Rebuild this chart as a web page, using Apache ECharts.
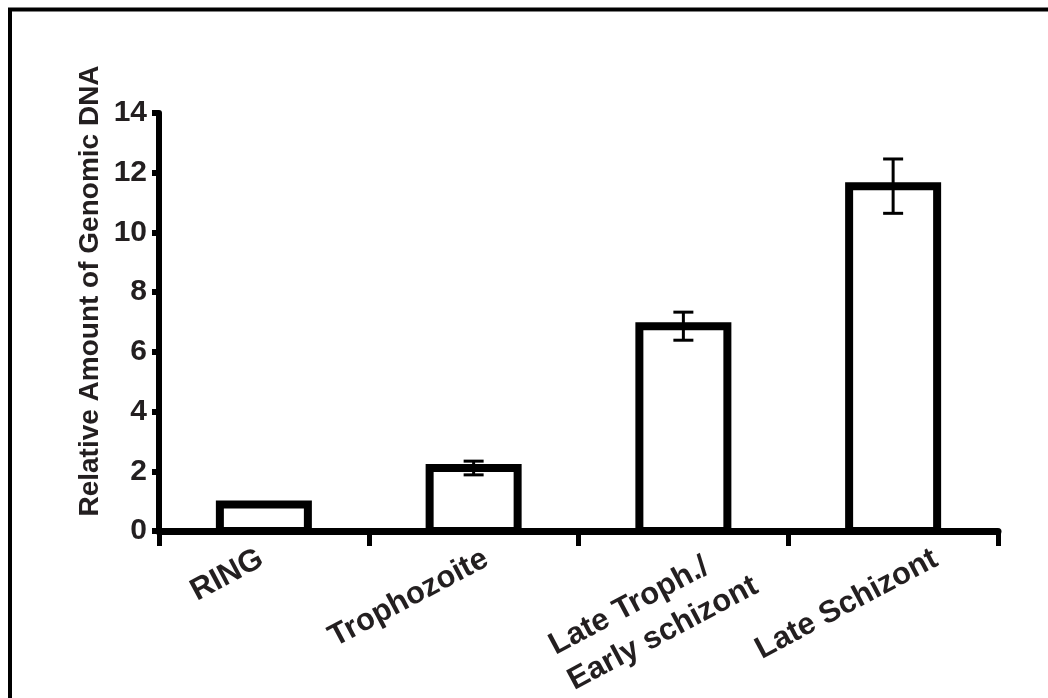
<!DOCTYPE html>
<html>
<head>
<meta charset="utf-8">
<title>Relative Amount of Genomic DNA</title>
<script src="https://cdn.jsdelivr.net/npm/echarts@6/dist/echarts.min.js"></script>
<style>
  html, body { margin: 0; padding: 0; background: #fff; }
  #chart { width: 1048px; height: 698px; }
</style>
</head>
<body>
<div id="chart"></div>
<script>
// stages and values
var stages = ['RING', 'Trophozoite', 'Late Troph./\nEarly schizont', 'Late Schizont']
var dnaAmount = [0.89, 2.11, 6.86, 11.55]
var dnaError = [0, 0.23, 0.47, 0.91]
var yTicks = { min: 0, max: 14, interval: 2 }

var font = "'Liberation Sans', Arial, Helvetica, sans-serif"
var textColor = '#231f20'

var chart = echarts.init(document.getElementById('chart'))

var barData = dnaAmount.map(function (v, i) { return [i, v] })
var errorData = dnaAmount.map(function (v, i) {
    return [i, v - dnaError[i], v + dnaError[i]]
})

// the two line name sits lower and more to the right
var stageLabels = stages.map(function (s) {
    if (s.indexOf('\n') < 0) return s
    return { value: s, textStyle: { padding: [50, -27, 0, 0] } }
})

var option = {
    animation: false,
    backgroundColor: '#fff',
    grid: [
        { left: 159, right: 50, top: 113, bottom: 167 },
        // labels only, the stage names sit a bit to the right in the picture
        { left: 149, width: 901, top: 113, bottom: 167 }
    ],
    graphic: [
        {
            type: 'rect',
            shape: { x: 10, y: 9.5, width: 1100, height: 800 },
            style: { fill: 'none', stroke: '#000', lineWidth: 4 },
            silent: true
        },
        {
            type: 'text',
            x: 90,
            y: 291,
            rotation: Math.PI / 2,
            style: {
                text: 'Relative Amount of Genomic DNA',
                font: 'bold 28px ' + font,
                fill: textColor,
                textAlign: 'center',
                textVerticalAlign: 'middle'
            }
        }
    ],
    xAxis: [
        {
            type: 'category',
            gridIndex: 0,
            data: stages,
            axisLine: { lineStyle: { color: '#000', width: 7 } },
            axisTick: { show: true, length: 15, lineStyle: { color: '#000', width: 5 } },
            axisLabel: { show: false },
            splitLine: { show: false }
        },
        {
            type: 'category',
            gridIndex: 1,
            data: stageLabels,
            axisLine: { show: false },
            axisTick: { show: false },
            axisLabel: {
                rotate: 28,
                margin: 26,
                interval: 0,
                formatter: function (v) {
                    return v.split('\n').map(function (s) { return '{a|' + s + '}' }).join('\n')
                },
                rich: {
                    a: {
                        fontFamily: font,
                        fontWeight: 'bold',
                        fontSize: 31,
                        lineHeight: 40,
                        color: textColor,
                        align: 'left'
                    }
                }
            },
            splitLine: { show: false }
        }
    ],
    yAxis: [
        {
            type: 'value',
            gridIndex: 0,
            min: yTicks.min,
            max: yTicks.max,
            interval: yTicks.interval,
            axisLine: { show: true, lineStyle: { color: '#000', width: 6 } },
            axisTick: { show: true, length: 7, lineStyle: { color: '#000', width: 6 } },
            axisLabel: {
                margin: 12,
                fontFamily: font,
                fontWeight: 'bold',
                fontSize: 30,
                color: textColor
            },
            splitLine: { show: false }
        },
        { type: 'value', gridIndex: 1, show: false }
    ],
    series: [
        {
            // bars: white box with the outline centred on the value
            type: 'custom',
            xAxisIndex: 0,
            yAxisIndex: 0,
            data: barData,
            z: 2,
            renderItem: function (params, api) {
                var top = api.coord([api.value(0), api.value(1)])
                var base = api.coord([api.value(0), 0])
                var w = 88
                return {
                    type: 'rect',
                    shape: { x: top[0] - w / 2, y: top[1], width: w, height: base[1] - top[1] },
                    style: { fill: '#fff', stroke: '#000', lineWidth: 8 }
                }
            }
        },
        {
            type: 'custom',
            xAxisIndex: 0,
            yAxisIndex: 0,
            data: errorData,
            z: 5,
            renderItem: function (params, api) {
                var x = api.value(0)
                var lo = api.coord([x, api.value(1)])
                var hi = api.coord([x, api.value(2)])
                var cap = 10
                var st = { stroke: '#000', lineWidth: 3 }
                if (hi[1] === lo[1]) return null
                return {
                    type: 'group',
                    children: [
                        { type: 'line', shape: { x1: lo[0], y1: lo[1], x2: hi[0], y2: hi[1] }, style: st },
                        { type: 'line', shape: { x1: lo[0] - cap, y1: lo[1], x2: lo[0] + cap, y2: lo[1] }, style: st },
                        { type: 'line', shape: { x1: hi[0] - cap, y1: hi[1], x2: hi[0] + cap, y2: hi[1] }, style: st }
                    ]
                }
            }
        }
    ]
}

option && chart.setOption(option)
</script>
</body>
</html>
